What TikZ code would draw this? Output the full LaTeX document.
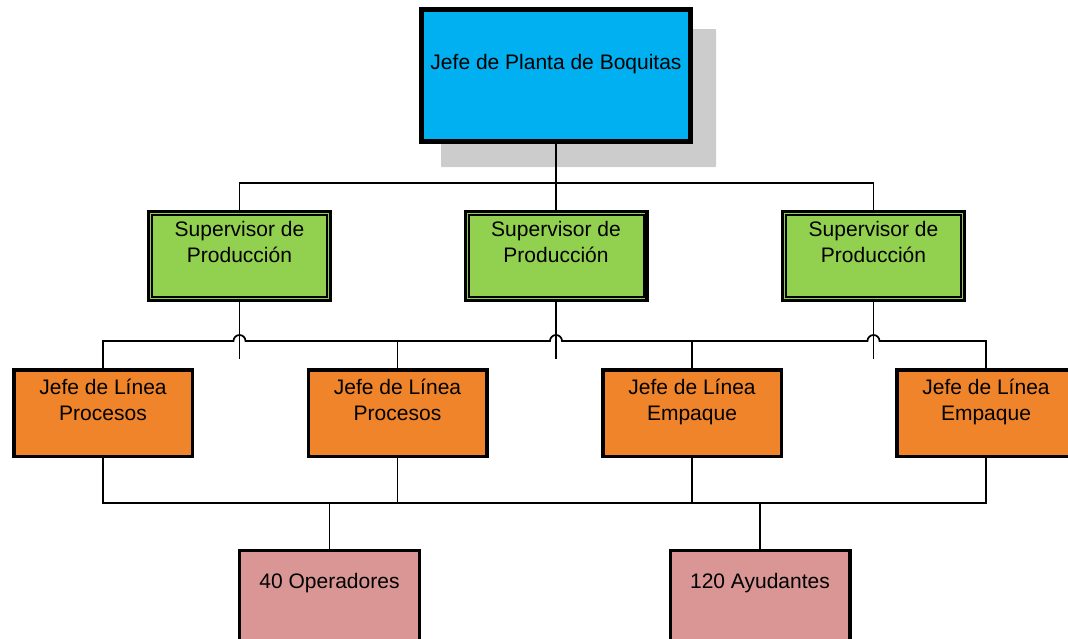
\documentclass[tikz,border=0pt]{standalone}
\usepackage{fontspec}
\setmainfont{Liberation Sans}
\usetikzlibrary{calc}
\definecolor{topblue}{HTML}{00B0F0}
\definecolor{supgreen}{HTML}{92D050}
\definecolor{lineorange}{HTML}{F0842A}
\definecolor{workpink}{HTML}{D99694}
\definecolor{shadowgray}{HTML}{CCCCCC}
\begin{document}
\begin{tikzpicture}[x=1pt,y=-1pt,
  box/.style={draw=black, rectangle, inner sep=0pt},
  topbox/.style={box, fill=topblue, line width=3.3pt, minimum width=270.7pt, minimum height=133.7pt},
  supbox/.style={box, fill=supgreen, line width=3.3pt, minimum width=181.7pt, minimum height=88.7pt},
  jefebox/.style={box, fill=lineorange, line width=3.5pt, minimum width=178.5pt, minimum height=86.5pt},
  workbox/.style={box, fill=workpink, line width=3.3pt, minimum width=179.7pt, minimum height=98.7pt},
  innerline/.style={draw=black, line width=2pt},
  lbl/.style={font=\fontsize{21}{26}\selectfont, align=center, anchor=base, inner sep=0pt},
  conn/.style={draw=black, line width=1.7pt}
]
\useasboundingbox (0,0) rectangle (1068,638);
\clip (0,0) rectangle (1068,638);

% shadow
\fill[shadowgray, rounded corners=1pt] (441,29) rectangle (716,167);

% boxes
\node[topbox] (t) at (556,75.5) {};
\draw[innerline] ($(t.south west)+(4pt,4pt)$) rectangle ($(t.north east)+(-4pt,-4pt)$);
\node[lbl] (tl) at (556,69) {Jefe de Planta de Boquitas};

\foreach \n/\x in {s1/239.5, s2/556, s3/873.5}{
  \node[supbox] (\n) at (\x,256) {};
  \draw[innerline] ($(\n.south west)+(5pt,5pt)$) rectangle ($(\n.north east)+(-5pt,-5pt)$);
  \node[lbl] (\n l) at (\x,262) {Supervisor de\\Producción};
}

\node[jefebox] (o1) at (103,413) {};
\node[lbl] (o1l) at (103,420) {Jefe de Línea\\Procesos};
\node[jefebox] (o2) at (397.5,413) {};
\node[lbl] (o2l) at (397.5,420) {Jefe de Línea\\Procesos};
\node[jefebox] (o3) at (692,413) {};
\node[lbl] (o3l) at (692,420) {Jefe de Línea\\Empaque};
\node[jefebox] (o4) at (986,413) {};
\node[lbl] (o4l) at (986,420) {Jefe de Línea\\Empaque};

\node[workbox] (p1) at (329.5,600) {};
\node[lbl] (p1l) at (329.5,588) {40 Operadores};
\node[workbox] (p2) at (760,600) {};
\node[lbl] (p2l) at (760,588) {120 Ayudantes};

% bus levels
\coordinate (b1) at (0,183);
\coordinate (b2) at (0,341);
\coordinate (b3) at (0,503);

% top to supervisors
\draw[conn] (t.south) -- (s2.north);
\draw[conn] (s1.north) |- (s3.north |- b1) -- (s3.north);

% supervisor stubs
\foreach \n in {s1,s2,s3}{
  \coordinate (\n e) at ($(\n.south)+(0,57)$);
  \draw[conn] (\n.south) -- (\n e);
}

% bus 2 with hops
\draw[conn] (o1.north) -- (o1.north |- b2)
  -- ($(s1.south |- b2)+(-6pt,0)$) arc[start angle=180,end angle=0,radius=6pt]
  -- ($(s2.south |- b2)+(-6pt,0)$) arc[start angle=180,end angle=0,radius=6pt]
  -- ($(s3.south |- b2)+(-6pt,0)$) arc[start angle=180,end angle=0,radius=6pt]
  -- (o4.north |- b2) -- (o4.north);
\draw[conn] (o2.north |- b2) -- (o2.north);
\draw[conn] (o3.north |- b2) -- (o3.north);

% bus 3
\draw[conn] (o1.south) |- (o4.south |- b3) -- (o4.south);
\draw[conn] (o2.south) -- (o2.south |- b3);
\draw[conn] (o3.south) -- (o3.south |- b3);
\draw[conn] (p1.north |- b3) -- (p1.north);
\draw[conn] (p2.north |- b3) -- (p2.north);
\end{tikzpicture}
\end{document}
